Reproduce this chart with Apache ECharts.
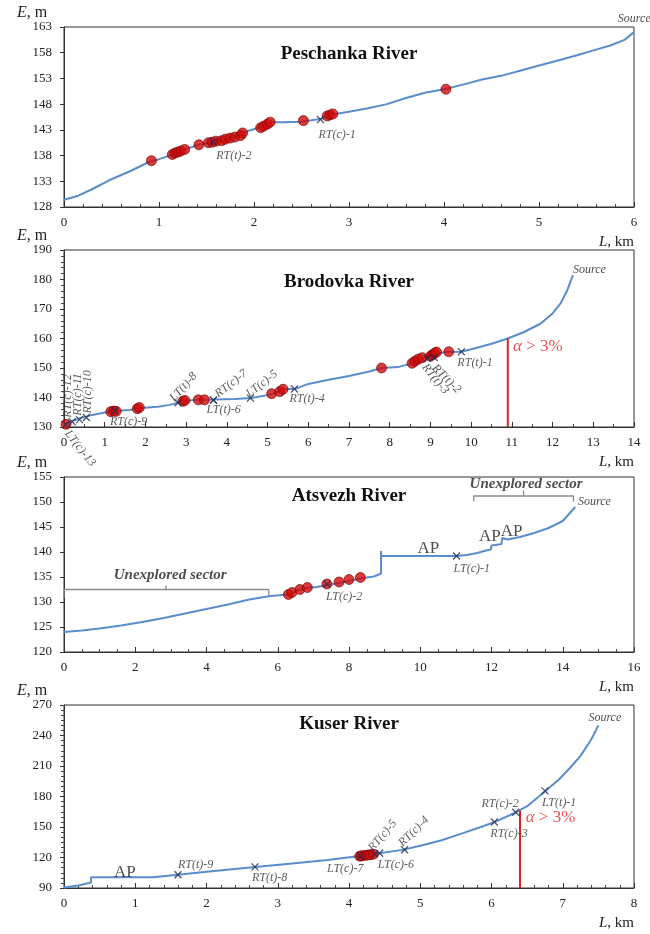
<!DOCTYPE html>
<html>
<head>
<meta charset="utf-8">
<title>Longitudinal river profiles</title>
<script src="https://cdn.jsdelivr.net/npm/echarts@6/dist/echarts.min.js"></script>
<style>
  html, body { margin: 0; padding: 0; background: #fff; }
  #chart { width: 650px; height: 934px; }
</style>
</head>
<body>
<div id="chart"></div>
<script>
// ---- Peschanka River ----
const peschankaL = [0, 0.15, 0.3, 0.5, 0.7, 0.9, 1.0, 1.15, 1.27, 1.42, 1.55, 1.7, 1.86, 1.9, 2.05, 2.18, 2.3, 2.5, 2.7, 2.82, 3.0, 3.2, 3.4, 3.6, 3.8, 4.0, 4.2, 4.4, 4.6, 4.8, 5.0, 5.2, 5.4, 5.6, 5.75, 5.9, 6.0];
const peschankaE = [129.4, 130.2, 131.5, 133.4, 135.0, 136.8, 137.3, 138.2, 139.2, 140.1, 140.6, 141.2, 141.9, 142.6, 143.4, 144.5, 144.5, 144.6, 145.1, 146.0, 146.5, 147.2, 148.0, 149.2, 150.2, 150.9, 151.8, 152.8, 153.5, 154.5, 155.5, 156.5, 157.5, 158.6, 159.4, 160.5, 162.0];
const peschankaDotL = [0.92, 1.14, 1.17, 1.2, 1.23, 1.27, 1.42, 1.52, 1.56, 1.6, 1.66, 1.7, 1.75, 1.8, 1.86, 1.88, 2.07, 2.1, 2.14, 2.17, 2.52, 2.77, 2.8, 2.83, 4.02];
const peschankaDotE = [137.0, 138.2, 138.5, 138.7, 138.9, 139.2, 140.1, 140.5, 140.6, 140.8, 140.9, 141.2, 141.4, 141.6, 141.9, 142.4, 143.4, 143.7, 144.1, 144.5, 144.8, 145.7, 145.9, 146.1, 150.9];
const peschankaMarkL = [2.7, 1.57];
const peschankaMarkE = [145.0, 140.7];
const peschankaMarkName = ['RT(c)-1', 'RT(t)-2'];
const peschankaNoteL = [5.83];
const peschankaNoteE = [164.6];
const peschankaNoteText = ['Source'];

// ---- Brodovka River ----
const brodovkaL = [0, 0.2, 0.4, 0.7, 1.0, 1.2, 1.6, 1.9, 2.3, 2.6, 2.8, 3.0, 3.3, 3.7, 4.2, 4.6, 5.0, 5.2, 5.38, 5.7, 6.0, 6.5, 7.0, 7.5, 7.8, 8.2, 8.5, 8.8, 9.1, 9.4, 9.75, 10.1, 10.5, 10.9, 11.3, 11.7, 12.0, 12.2, 12.35, 12.5];
const brodovkaE = [131.0, 132.0, 133.0, 134.1, 134.9, 135.4, 135.8, 136.4, 136.9, 137.5, 138.2, 138.9, 139.2, 139.3, 139.5, 139.8, 140.8, 141.6, 142.8, 143.0, 144.6, 146.0, 147.3, 148.8, 150.0, 150.3, 151.4, 153.2, 154.8, 155.4, 155.5, 156.7, 158.2, 160.0, 162.2, 165.0, 168.5, 172.0, 176.0, 181.5];
const brodovkaDotL = [0.05, 1.15, 1.22, 1.28, 1.8, 1.85, 2.92, 2.97, 3.3, 3.45, 5.1, 5.3, 5.38, 7.8, 8.55, 8.62, 8.7, 8.8, 9.0, 9.05, 9.1, 9.15, 9.45];
const brodovkaDotE = [130.9, 135.2, 135.4, 135.3, 136.2, 136.6, 138.7, 139.0, 139.2, 139.2, 141.3, 142.0, 142.8, 150.0, 151.6, 152.3, 153.0, 153.5, 154.0, 154.5, 155.0, 155.4, 155.5];
const brodovkaMarkL = [0.05, 0.2, 0.38, 0.55, 1.25, 2.8, 3.67, 3.67, 4.58, 5.66, 8.92, 9.09, 9.76];
const brodovkaMarkE = [130.8, 131.8, 132.5, 133.2, 135.5, 138.2, 139.1, 139.1, 139.8, 142.9, 153.3, 153.6, 155.5];
const brodovkaMarkName = ['LT(c)-13', 'RT(c)-12', 'RT(c)-11', 'RT(c)-10', 'RT(c)-9', 'LT(t)-8', 'RT(c)-7', 'LT(t)-6', 'LT(c)-5', 'RT(t)-4', 'RT(t)-3', 'RT(t)-2', 'RT(t)-1'];
const brodovkaSlopeL = [10.9, 10.9];
const brodovkaSlopeE = [130, 160];
const brodovkaNoteL = [12.5, 11.03];
const brodovkaNoteE = [183.4, 157.2];
const brodovkaNoteText = ['Source', 'α > 3%'];

// ---- Atsvezh River ----
const atsvezhL = [0, 0.5, 1.0, 1.6, 2.2, 2.8, 3.4, 4.0, 4.6, 5.2, 5.8, 6.3, 6.6, 6.8, 7.1, 7.4, 7.8, 8.1, 8.4, 8.7, 8.9, 8.9, 8.9, 9.5, 10.2, 11.0, 11.3, 11.6, 11.85, 11.98, 12.0, 12.2, 12.28, 12.3, 12.45, 12.8, 13.2, 13.6, 14.0, 14.35];
const atsvezhE = [124.0, 124.3, 124.7, 125.3, 126.0, 126.8, 127.7, 128.6, 129.5, 130.5, 131.2, 131.5, 132.4, 132.8, 133.0, 133.4, 133.9, 134.4, 134.8, 135.1, 135.7, 140.2, 139.2, 139.2, 139.2, 139.2, 139.4, 139.8, 140.3, 140.5, 141.3, 141.5, 141.6, 142.8, 142.5, 143.0, 143.8, 144.8, 146.2, 149.0];
const atsvezhDotL = [6.3, 6.4, 6.62, 6.83, 7.38, 7.72, 8.0, 8.32];
const atsvezhDotE = [131.5, 131.9, 132.5, 132.9, 133.6, 134.0, 134.5, 134.9];
const atsvezhMarkL = [7.38, 11.02];
const atsvezhMarkE = [133.6, 139.2];
const atsvezhMarkName = ['LT(c)-2', 'LT(c)-1'];
const atsvezhGapLeftL = [0, 0, 2.86, 2.86, 2.86, 5.75, 5.75];
const atsvezhGapLeftE = [130.8, 132.5, 132.5, 133.3, 132.5, 132.5, 131.2];
const atsvezhGapRightL = [11.5, 11.5, 12.9, 12.9, 12.9, 14.3, 14.3];
const atsvezhGapRightE = [150.1, 151.2, 151.2, 152.3, 151.2, 151.2, 150.1];
const atsvezhNoteL = [14.43, 9.92, 11.65, 12.26, 2.98, 12.97];
const atsvezhNoteE = [150.1, 140.7, 143.1, 144.1, 135.4, 153.6];
const atsvezhNoteText = ['Source', 'AP', 'AP', 'AP', 'Unexplored sector', 'Unexplored sector'];

// ---- Kuser River ----
const kuserL = [0, 0.2, 0.35, 0.38, 0.38, 0.8, 1.25, 1.6, 2.0, 2.65, 3.2, 3.7, 4.15, 4.4, 4.75, 5.0, 5.3, 5.6, 5.85, 6.05, 6.3, 6.5, 6.75, 6.95, 7.1, 7.25, 7.4, 7.5];
const kuserE = [90.5, 92.5, 95.0, 95.5, 100.5, 100.5, 100.5, 103.0, 106.0, 110.5, 114.0, 117.5, 121.5, 124.0, 127.5, 131.5, 137.0, 144.0, 150.0, 155.0, 163.0, 170.5, 185.0, 197.0, 208.0, 220.0, 236.0, 250.0];
const kuserDotL = [4.15, 4.18, 4.22, 4.26, 4.3, 4.34];
const kuserDotE = [121.3, 121.6, 122.0, 122.4, 122.8, 123.2];
const kuserMarkL = [1.6, 2.68, 4.16, 4.36, 4.43, 4.78, 6.04, 6.34, 6.75];
const kuserMarkE = [103.0, 110.8, 121.5, 123.6, 124.2, 127.6, 155.0, 164.5, 185.5];
const kuserMarkName = ['RT(t)-9', 'RT(t)-8', 'LT(c)-7', 'RT(c)-5', 'LT(c)-6', 'RT(c)-4', 'RT(c)-3', 'RT(c)-2', 'LT(t)-1'];
const kuserSlopeL = [6.4, 6.4];
const kuserSlopeE = [90, 166];
const kuserNoteL = [7.36, 6.48, 0.7];
const kuserNoteE = [257, 159.3, 105.6];
const kuserNoteText = ['Source', 'α > 3%', 'AP'];

// ---- axes: [min, max, interval, minor split] ----
const xAxesCfg = [[0, 6, 1, 5], [0, 14, 1, 2], [0, 16, 2, 4], [0, 8, 1, 5]];
const yAxesCfg = [[128, 163, 5, 0], [130, 190, 10, 5], [120, 155, 5, 0], [90, 270, 30, 6]];
const riverNames = ['Peschanka River', 'Brodovka River', 'Atsvezh River', 'Kuser River'];

const FONT = '"Liberation Serif", "DejaVu Serif", serif';
const LINE_BLUE = '#5a8dcc';

// layout
const gridTops = [27, 250, 477, 705];
const gridHeights = [180, 177, 175, 183];
const titleShift = [28, 33, 20, 20];
const GRID_LEFT = 64, GRID_RIGHT = 16;

// label placement of the crossing marks, screen pixels: [dx, dy, rotate, align]
const markLayout = [
    { 'RT(c)-1': [-2, 15, 0, 'left'], 'RT(t)-2': [3, 14, 0, 'left'] },
    {
        'LT(c)-13': [1, 7, -52, 'left'], 'RT(c)-12': [-4, -4, 90, 'left'],
        'RT(c)-11': [-2, -4, 90, 'left'], 'RT(c)-10': [1, -4, 90, 'left'],
        'RT(c)-9': [-5, 11, 0, 'left'], 'LT(t)-8': [-6, -3, 48, 'left'],
        'RT(c)-7': [3, -5, 38, 'left'], 'LT(t)-6': [-7, 10, 0, 'left'],
        'LT(c)-5': [-3, -3, 38, 'left'], 'RT(t)-4': [-5, 10, 0, 'left'],
        'RT(t)-3': [-3, 7, -51, 'left'], 'RT(t)-2': [0, 9, -45, 'left'],
        'RT(t)-1': [-4, 11, 0, 'left']
    },
    { 'LT(c)-2': [-1, 13, 0, 'left'], 'LT(c)-1': [-3, 13, 0, 'left'] },
    {
        'RT(t)-9': [0, -10, 0, 'left'], 'RT(t)-8': [-3, 11, 0, 'left'],
        'LT(c)-7': [3, 13, 0, 'right'], 'RT(c)-5': [-4, -4, 50, 'left'],
        'LT(c)-6': [-2, 12, 0, 'left'], 'RT(c)-4': [-4, -5, 45, 'left'],
        'RT(c)-3': [-4, 12, 0, 'left'], 'RT(c)-2': [3, -8, 0, 'right'],
        'LT(t)-1': [-3, 12, 0, 'left']
    }
];

function zip(xs, ys) {
    return xs.map((x, i) => [x, ys[i]]);
}

// label offsets are applied in the rotated frame, so turn a screen shift into it
function rotatedOffset(dx, dy, deg) {
    const t = deg * Math.PI / 180;
    return [dx * Math.cos(t) - dy * Math.sin(t), dx * Math.sin(t) + dy * Math.cos(t)];
}

function noteLabel(text) {
    const base = { show: true, position: 'inside', verticalAlign: 'middle', fontFamily: FONT, color: '#222' };
    if (text === 'Source') {
        return Object.assign(base, { align: 'left', fontStyle: 'italic', fontSize: 12, formatter: 'Source' });
    }
    if (text === 'AP') {
        return Object.assign(base, { align: 'left', fontSize: 17, formatter: 'AP' });
    }
    if (text === 'Unexplored sector') {
        return Object.assign(base, { align: 'center', fontStyle: 'italic', fontWeight: 'bold', fontSize: 15, formatter: text });
    }
    // slope note
    return Object.assign(base, {
        align: 'left', fontSize: 17, color: '#e02828', formatter: '{a|α} > 3%',
        rich: { a: { fontStyle: 'italic', fontSize: 17, color: '#e02828', fontFamily: FONT } }
    });
}

const panels = [
    { curve: [peschankaL, peschankaE], dots: [peschankaDotL, peschankaDotE], marks: [peschankaMarkL, peschankaMarkE, peschankaMarkName], notes: [peschankaNoteL, peschankaNoteE, peschankaNoteText] },
    { curve: [brodovkaL, brodovkaE], dots: [brodovkaDotL, brodovkaDotE], marks: [brodovkaMarkL, brodovkaMarkE, brodovkaMarkName], notes: [brodovkaNoteL, brodovkaNoteE, brodovkaNoteText], slope: [brodovkaSlopeL, brodovkaSlopeE] },
    { curve: [atsvezhL, atsvezhE], dots: [atsvezhDotL, atsvezhDotE], marks: [atsvezhMarkL, atsvezhMarkE, atsvezhMarkName], notes: [atsvezhNoteL, atsvezhNoteE, atsvezhNoteText], brackets: [[atsvezhGapLeftL, atsvezhGapLeftE], [atsvezhGapRightL, atsvezhGapRightE]] },
    { curve: [kuserL, kuserE], dots: [kuserDotL, kuserDotE], marks: [kuserMarkL, kuserMarkE, kuserMarkName], notes: [kuserNoteL, kuserNoteE, kuserNoteText], slope: [kuserSlopeL, kuserSlopeE] }
];

const grids = [], xAxes = [], yAxes = [], titles = [], series = [];

panels.forEach((p, i) => {
    const top = gridTops[i], h = gridHeights[i];
    grids.push({
        left: GRID_LEFT, right: GRID_RIGHT, top: top, height: h,
        show: true, borderColor: '#333', borderWidth: 1, backgroundColor: '#fff',
        outerBoundsMode: 'none'
    });

    const xc = xAxesCfg[i];
    xAxes.push({
        type: 'value', gridIndex: i, min: xc[0], max: xc[1], interval: xc[2],
        axisLine: { show: true, onZero: false, lineStyle: { color: '#333', width: 1 } },
        axisTick: { show: true, inside: true, length: 5, lineStyle: { color: '#333' } },
        minorTick: { show: true, splitNumber: xc[3], length: 3, lineStyle: { color: '#444' } },
        splitLine: { show: false },
        axisLabel: { fontFamily: FONT, fontSize: 13, color: '#222', margin: 9 }
    });

    const yc = yAxesCfg[i];
    yAxes.push({
        type: 'value', gridIndex: i, min: yc[0], max: yc[1], interval: yc[2],
        axisLine: { show: true, onZero: false, lineStyle: { color: '#333', width: 1 } },
        axisTick: { show: true, inside: false, length: 4, lineStyle: { color: '#333' } },
        minorTick: { show: yc[3] > 0, splitNumber: yc[3] || 5, length: 3, lineStyle: { color: '#444' } },
        splitLine: { show: false },
        axisLabel: { fontFamily: FONT, fontSize: 13, color: '#222', margin: 12 }
    });

    // river name
    titles.push({
        text: riverNames[i], left: GRID_LEFT + (650 - GRID_LEFT - GRID_RIGHT) / 2, textAlign: 'center',
        top: top + titleShift[i] - 10, padding: 0,
        textStyle: { fontFamily: FONT, fontWeight: 'bold', fontSize: 19, color: '#111' }
    });
    // axis names
    titles.push({
        text: '{i|E}, m', left: 17, top: top - 22, padding: 0,
        textStyle: { fontFamily: FONT, fontSize: 16, fontWeight: 'normal', color: '#222',
            rich: { i: { fontFamily: FONT, fontSize: 16, fontStyle: 'italic', color: '#222' } } }
    });
    titles.push({
        text: '{i|L}, km', right: GRID_RIGHT, top: top + h + 28, padding: 0,
        textStyle: { fontFamily: FONT, fontSize: 15, fontWeight: 'normal', color: '#222',
            rich: { i: { fontFamily: FONT, fontSize: 15, fontStyle: 'italic', color: '#222' } } }
    });

    // unexplored-sector brackets
    (p.brackets || []).forEach(b => {
        series.push({
            type: 'line', xAxisIndex: i, yAxisIndex: i, data: zip(b[0], b[1]),
            showSymbol: false, symbol: 'none', silent: true, z: 1,
            lineStyle: { color: '#8a8a8a', width: 1.3 }
        });
    });

    // river profile
    series.push({
        type: 'line', xAxisIndex: i, yAxisIndex: i, data: zip(p.curve[0], p.curve[1]),
        showSymbol: false, symbol: 'none', silent: true, z: 2,
        lineStyle: { color: LINE_BLUE, width: 2 }
    });

    // red slope line
    if (p.slope) {
        series.push({
            type: 'line', xAxisIndex: i, yAxisIndex: i, data: zip(p.slope[0], p.slope[1]),
            showSymbol: false, symbol: 'none', silent: true, z: 3,
            lineStyle: { color: '#e02020', width: 2 }
        });
    }

    // red dots
    series.push({
        type: 'scatter', xAxisIndex: i, yAxisIndex: i, data: zip(p.dots[0], p.dots[1]),
        symbol: 'circle', symbolSize: 10, silent: true, z: 4,
        itemStyle: { color: '#d10a0a', borderColor: '#6e0000', borderWidth: 0.8 }
    });

    // crossing marks with labels
    const layout = markLayout[i];
    series.push({
        type: 'scatter', xAxisIndex: i, yAxisIndex: i, silent: true, z: 5,
        symbol: 'path://M0,0L10,10M10,0L0,10', symbolSize: 7,
        itemStyle: { color: 'transparent', borderColor: '#1f2d52', borderWidth: 1.3 },
        data: p.marks[0].map((x, k) => {
            const name = p.marks[2][k];
            const l = layout[name] || [0, 12, 0, 'left'];
            return {
                value: [x, p.marks[1][k]],
                label: {
                    show: true, position: 'inside', formatter: name,
                    align: l[3], verticalAlign: 'middle', offset: rotatedOffset(l[0], l[1], l[2]), rotate: l[2],
                    fontFamily: FONT, fontStyle: 'italic', fontSize: 12, color: '#333'
                }
            };
        })
    });

    // text notes
    series.push({
        type: 'scatter', xAxisIndex: i, yAxisIndex: i, silent: true, z: 6, clip: false,
        symbol: 'circle', symbolSize: 0,
        data: p.notes[0].map((x, k) => ({
            value: [x, p.notes[1][k]],
            label: noteLabel(p.notes[2][k])
        }))
    });
});

const chart = echarts.init(document.getElementById('chart'), null, { renderer: 'canvas' });
chart.setOption({
    animation: false,
    backgroundColor: '#fff',
    title: titles,
    grid: grids,
    xAxis: xAxes,
    yAxis: yAxes,
    series: series
});
</script>
</body>
</html>
